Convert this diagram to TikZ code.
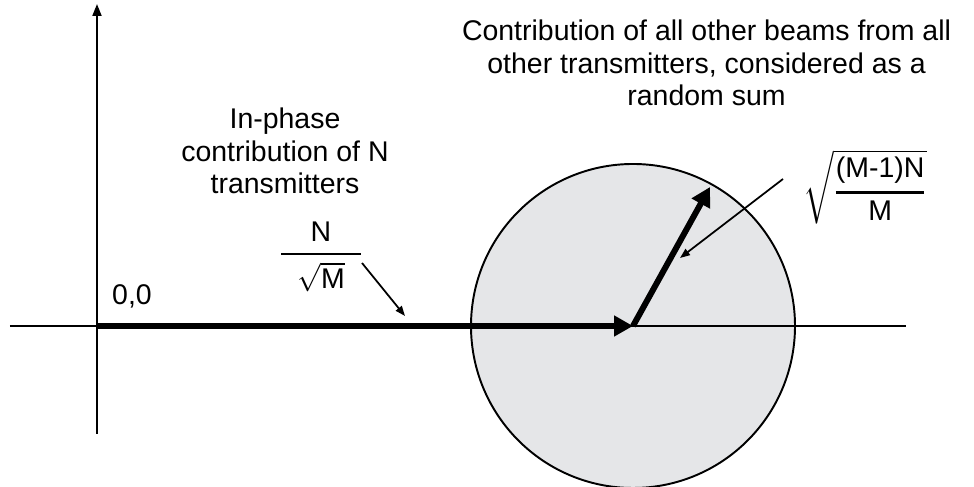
\documentclass[tikz,border=0pt]{standalone}
\usepackage{amsmath}
\usepackage{fix-cm}
\usepackage{fontspec}
\setmainfont{Liberation Sans}
\usetikzlibrary{arrows.meta}
\definecolor{discgray}{RGB}{229,230,232}

\begin{document}
\begin{tikzpicture}[>=Stealth,
  axis/.style={line width=1.1pt},
  vec/.style={line width=3.4pt, -{Triangle[length=0.38cm,width=0.40cm]}},
  pointer/.style={line width=1pt, -{Triangle[length=0.20cm,width=0.15cm]}},
  lbl/.style={font=\fontsize{16.2}{18.4}\selectfont, align=center, inner sep=0pt}]
  \useasboundingbox (-1.94,-3.22) rectangle (17.54,6.52);
  % random sum of the other beams
  \coordinate (c) at (10.72,0);
  \draw[line width=1.1pt, fill=discgray] (c) circle (3.24);
  % axes
  \coordinate (o) at (0,0);
  \coordinate (xl) at (-1.74,0);
  \coordinate (xr) at (16.18,0);
  \coordinate (yb) at (0,-2.16);
  \coordinate (yt) at (0,6.44);
  \draw[axis] (xl) -- (xr);
  \draw[axis, -{Triangle[length=0.24cm,width=0.18cm]}] (yb) -- (yt);
  % in-phase sum, then the random part on top of it
  \coordinate (tip) at (12.26,2.78);
  \draw[vec, line cap=butt] (o) -- (c);
  \draw[vec] (c) -- (tip);
  % labels
  \node[lbl] (origin) at (0.70,0.60) {0,0};
  \node[lbl] (inphase) at (3.76,3.50) {In-phase\\contribution of N\\transmitters};
  \node[lbl] (others) at (12.19,5.26) {Contribution of all other beams from all\\other transmitters, considered as a\\random sum};
  \node[lbl] (amp) at (4.48,1.38) {$\genfrac{}{}{1.4pt}{0}{\text{N}}{\;\;\sqrt{\text{M}}\;\;}$};
  \node[lbl] (spread) at (15.36,2.78) {$\sqrt{\genfrac{}{}{1.4pt}{0}{\text{(M-1)N}}{\text{M}}}$};
  % pointers to the two vectors
  \coordinate (ampstart) at (5.30,1.26);
  \coordinate (ampend) at (6.16,0.20);
  \coordinate (spreadstart) at (13.72,2.94);
  \coordinate (spreadend) at (11.66,1.36);
  \draw[pointer] (ampstart) -- (ampend);
  \draw[pointer] (spreadstart) -- (spreadend);
\end{tikzpicture}
\end{document}
